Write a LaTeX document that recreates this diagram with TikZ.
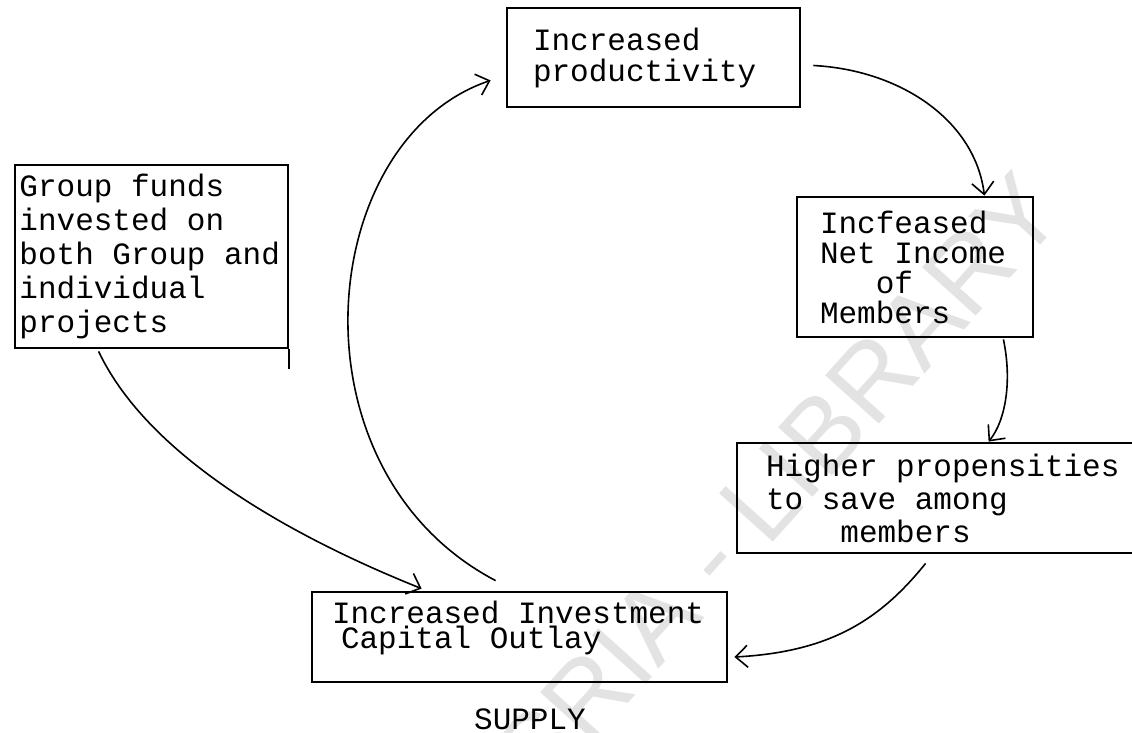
\documentclass[tikz,border=0pt]{standalone}
\usepackage{fontspec}
\newfontfamily\tw{Liberation Mono}
\newfontfamily\wmf{Liberation Sans}
\usetikzlibrary{arrows.meta,calc}
\tikzset{
  box/.style={draw, line width=2.8pt, inner sep=0pt, align=left, anchor=center},
  conn/.style={line width=1.6pt, -{Straight Barb[length=12pt,width=22pt,line width=1.6pt]}},
  txt/.style={font=\tw\fontsize{31}{#1}\selectfont, execute at begin node={\spaceskip=18.6pt\relax}},
}
\begin{document}
\begin{tikzpicture}[x=1pt,y=-1pt]
\useasboundingbox (0,0) rectangle (1132,733);
\fill[white] (0,0) rectangle (1132,733);
\clip (0,0) rectangle (1132,733);

% faint watermark
\node[font=\wmf\fontsize{105}{105}\selectfont, text=black!11, rotate=48] (wm) at (676,596) {CODESRIA - LIBRARY};

% boxes
\node[box, txt=31, minimum width=293pt, minimum height=99pt, text width=241pt] (prod) at (653.5,57.5)
  {Increased\\productivity};
\node[box, txt=34, minimum width=273pt, minimum height=183pt, text width=264pt] (group) at (151.5,256.5)
  {Group funds\\invested on\\both Group and\\individual\\projects};
\node[box, txt=30, minimum width=236pt, minimum height=140pt, text width=190pt] (net) at (915,267)
  {Incfeased\\Net Income\\\phantom{xxx}of\\Members};
\node[box, txt=33, minimum width=423pt, minimum height=110pt, text width=365pt] (higher) at (948.5,498)
  {Higher propensities\\to save among\\\phantom{xxxx}members};
\node[box, txt=25, minimum width=415pt, minimum height=90pt, text width=375pt] (inv) at (519.5,637)
  {Increased Investment\\\hspace*{9pt}Capital Outlay\\\mbox{}};
\node[txt=31, inner sep=0pt] (supply) at (530,719) {SUPPLY};

% small stub below the group box
\draw[line width=2pt] (group.south east) -- ++(0,20);

% connectors
\draw[conn] ($(prod.east)+(12,8)$) .. controls (900,70) and (975,120) .. ($(net.north east)+(-50,0)$);
\draw[conn] ($(net.south east)+(-31,1)$) .. controls (1012,380) and (1006,420) .. ($(higher.north west)+(253,0)$);
\draw[conn] ($(higher.south west)+(190,9)$) .. controls (880,620) and (830,652) .. ($(inv.east)+(6,20)$);
\draw[conn] ($(group.south west)+(85,2)$) .. controls (150,460) and (300,540) .. ($(inv.north west)+(111,-2)$);
\draw[conn] ($(inv.north west)+(185,-10)$) .. controls (285,470) and (315,140) .. ($(prod.south west)+(-15,-28)$);
\end{tikzpicture}
\end{document}
